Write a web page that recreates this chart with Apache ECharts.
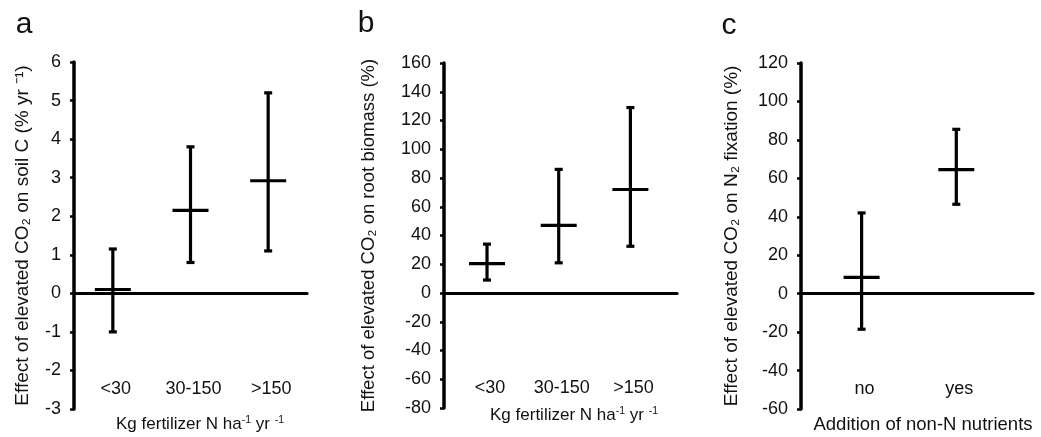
<!DOCTYPE html>
<html>
<head>
<meta charset="utf-8">
<script src="https://cdn.jsdelivr.net/npm/echarts@6/dist/echarts.min.js"></script>
<style>
  html, body { margin: 0; padding: 0; background: #fff; }
  #chart { width: 1041px; height: 437px; }
</style>
</head>
<body>
<div id="chart"></div>
<script>
// panel a: soil C
var catsA = ["<30", "30-150", ">150"];
var meanA = [0.1, 2.15, 2.92];
var lowA = [-1.0, 0.8, 1.1];
var highA = [1.15, 3.8, 5.2];

// panel b: root biomass
var catsB = ["<30", "30-150", ">150"];
var meanB = [20.5, 47, 72];
var lowB = [9, 21, 32.5];
var highB = [34, 86, 129];

// panel c: N2 fixation
var catsC = ["no", "yes"];
var meanC = [8.5, 64.5];
var lowC = [-18.5, 46.5];
var highC = [42, 85.5];

var FONT = "Liberation Sans, Arial, Helvetica, sans-serif";
var chart = echarts.init(document.getElementById("chart"));

function rows(cats, mean, low, high) {
  return cats.map(function (c, i) {
    return [i, mean[i], low[i], high[i], c];
  });
}

function renderBar(params, api) {
  var x = api.value(0);
  var pm = api.coord([x, api.value(1)]);
  var pl = api.coord([x, api.value(2)]);
  var ph = api.coord([x, api.value(3)]);
  var cs = params.coordSys;
  var st = { stroke: "#000", lineWidth: 3.2 };
  return {
    type: "group",
    children: [
      { type: "line", shape: { x1: pl[0], y1: pl[1], x2: ph[0], y2: ph[1] }, style: st },
      { type: "line", shape: { x1: pl[0] - 4, y1: pl[1], x2: pl[0] + 4, y2: pl[1] }, style: st },
      { type: "line", shape: { x1: ph[0] - 4, y1: ph[1], x2: ph[0] + 4, y2: ph[1] }, style: st },
      { type: "line", shape: { x1: pm[0] - 18, y1: pm[1], x2: pm[0] + 18, y2: pm[1] }, style: st },
      {
        type: "text",
        style: {
          x: pm[0] + 3, y: cs.y + cs.height - 20,
          text: api.value(4),
          fill: "#111", font: "18px " + FONT,
          textAlign: "center", textVerticalAlign: "middle"
        }
      }
    ]
  };
}

function yAxis(idx, min, max, interval, name, gap, nameSize) {
  return {
    type: "value", gridIndex: idx, min: min, max: max, interval: interval,
    name: name, nameLocation: "middle", nameGap: gap,
    nameTextStyle: { color: "#111", fontSize: nameSize, fontFamily: FONT },
    axisLine: { show: true, onZero: false, lineStyle: { color: "#000", width: 3.5 } },
    axisTick: { show: true, length: 4, lineStyle: { color: "#000", width: 2.5 } },
    axisLabel: { color: "#111", fontSize: 18, fontFamily: FONT, margin: 13 },
    splitLine: { show: false }
  };
}

function xAxis(idx, min, max) {
  return {
    type: "value", gridIndex: idx, min: min, max: max,
    axisLine: { show: true, onZero: true, lineStyle: { color: "#000", width: 3.2 } },
    axisTick: { show: false },
    axisLabel: { show: false },
    splitLine: { show: false }
  };
}

var supRich = {
  t: { fontSize: 17, fontFamily: FONT, fill: "#111" },
  s: { fontSize: 10.5, fontFamily: FONT, fill: "#111", padding: [0, 0, 7, 0] }
};

function text(x, y, s, size, rich) {
  var st = {
    text: s, fill: "#111", font: size + "px " + FONT,
    textAlign: "center", textVerticalAlign: "middle"
  };
  if (rich) st.rich = rich;
  return { type: "text", x: x, y: y, style: st };
}

var fertTitle = "{t|Kg fertilizer N ha}{s|-1}{t| yr }{s|-1}";

chart.setOption({
  animation: false,
  backgroundColor: "#fff",
  grid: [
    { left: 74, top: 62, width: 233, height: 347 },
    { left: 444, top: 63, width: 233, height: 345 },
    { left: 801, top: 63, width: 232, height: 346 }
  ],
  xAxis: [xAxis(0, -0.5, 2.5), xAxis(1, -0.6, 2.65), xAxis(2, -0.64, 1.81)],
  yAxis: [
    yAxis(0, -3, 6, 1, "Effect of elevated CO\u2082 on soil C (% yr \u207B\u00B9)", 42, 19),
    yAxis(1, -80, 160, 20, "Effect of elevated CO\u2082 on root biomass (%)", 66, 18.5),
    yAxis(2, -60, 120, 20, "Effect of elevated CO\u2082 on N\u2082 fixation (%)", 60, 19)
  ],
  series: [
    { type: "custom", xAxisIndex: 0, yAxisIndex: 0, renderItem: renderBar, data: rows(catsA, meanA, lowA, highA) },
    { type: "custom", xAxisIndex: 1, yAxisIndex: 1, renderItem: renderBar, data: rows(catsB, meanB, lowB, highB) },
    { type: "custom", xAxisIndex: 2, yAxisIndex: 2, renderItem: renderBar, data: rows(catsC, meanC, lowC, highC) }
  ],
  graphic: [
    text(24, 25, "a", 30),
    text(366, 24, "b", 30),
    text(729, 26, "c", 30),
    text(200, 424, fertTitle, 17, supRich),
    text(574, 415, fertTitle, 17, supRich),
    text(923, 425, "Addition of non-N nutrients", 18.5)
  ]
});
</script>
</body>
</html>
